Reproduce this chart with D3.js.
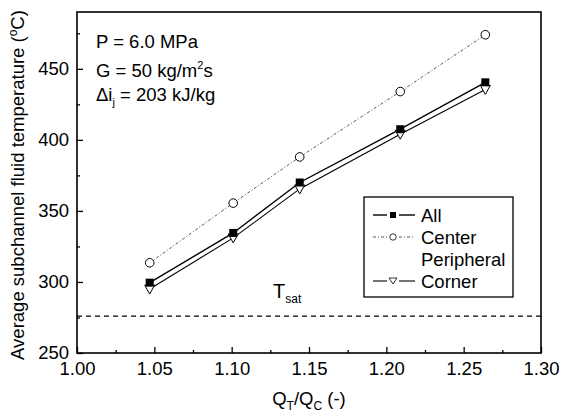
<!DOCTYPE html>
<html>
<head>
<meta charset="utf-8">
<script src="https://cdn.jsdelivr.net/npm/d3@7"></script>
<style>
  body { margin: 0; background: #fff; }
  svg { font-family: Arial, "Liberation Sans", sans-serif; }
</style>
</head>
<body>
<svg width="563" height="413"></svg>
<script>
// ratio Q_T/Q_C
var ratios = [1.047, 1.101, 1.144, 1.209, 1.264];
// average subchannel fluid temperature (deg C)
var allTemps = [299.5, 334.5, 370, 407.5, 440.5];
var centerTemps = [313.5, 355.5, 388, 434, 474];
var cornerTemps = [295, 331, 365.5, 404, 435.5];
var tSat = 276;

var xTicks = [1.00, 1.05, 1.10, 1.15, 1.20, 1.25, 1.30];
var yTicks = [250, 300, 350, 400, 450];

var margin = {left: 77, top: 12, right: 22, bottom: 60};
var width = 563, height = 413;
var fs = 18.5;

var svg = d3.select("svg");

var x = d3.scaleLinear().domain([1.0, 1.3]).range([margin.left, width - margin.right]);
var y = d3.scaleLinear().domain([250, 490]).range([height - margin.bottom, margin.top]);

// frame
svg.append("rect")
   .attr("x", x(1.0)).attr("y", y(490))
   .attr("width", x(1.3) - x(1.0)).attr("height", y(250) - y(490))
   .attr("fill", "none").attr("stroke", "#000").attr("stroke-width", 1.6);

// axes, ticks point inward
svg.append("g")
   .attr("transform", "translate(0," + y(250) + ")")
   .call(d3.axisBottom(x).tickValues(xTicks).tickFormat(d3.format(".2f")).tickSize(-6).tickPadding(9));
svg.append("g")
   .attr("transform", "translate(0," + y(250) + ")")
   .call(d3.axisBottom(x).tickValues(d3.range(1.025, 1.3, 0.05)).tickFormat("").tickSize(-3));

svg.append("g")
   .attr("transform", "translate(" + x(1.0) + ",0)")
   .call(d3.axisLeft(y).tickValues(yTicks).tickSize(-6).tickPadding(8));
svg.append("g")
   .attr("transform", "translate(" + x(1.0) + ",0)")
   .call(d3.axisLeft(y).tickValues([275, 325, 375, 425, 475]).tickFormat("").tickSize(-3));

svg.selectAll(".domain").remove();
svg.selectAll(".tick line").attr("stroke", "#000").attr("stroke-width", 1.3);
svg.selectAll(".tick text").attr("font-size", fs).attr("fill", "#000")
   .attr("font-family", "Arial, 'Liberation Sans', sans-serif");

// axis titles
var xt = svg.append("text")
   .attr("x", (x(1.0) + x(1.3)) / 2).attr("y", 405)
   .attr("text-anchor", "middle").attr("font-size", fs);
xt.append("tspan").text("Q");
xt.append("tspan").attr("font-size", 12).attr("dy", 5).text("T");
xt.append("tspan").attr("dy", -5).text("/Q");
xt.append("tspan").attr("font-size", 12).attr("dy", 5).text("C");
xt.append("tspan").attr("dy", -5).text(" (-)");

var yt = svg.append("text")
   .attr("transform", "translate(24,185) rotate(-90)")
   .attr("text-anchor", "middle").attr("font-size", fs);
yt.append("tspan").text("Average subchannel fluid temperature (");
yt.append("tspan").attr("font-size", 12).attr("dy", -7).text("o");
yt.append("tspan").attr("dy", 7).text("C)");

// saturation line
svg.append("line")
   .attr("x1", x(1.0)).attr("x2", x(1.3))
   .attr("y1", y(tSat)).attr("y2", y(tSat))
   .attr("stroke", "#000").attr("stroke-width", 1.3).attr("stroke-dasharray", "5,4");
var ts = svg.append("text").attr("x", 273).attr("y", 298).attr("font-size", 20);
ts.append("tspan").text("T");
ts.append("tspan").attr("font-size", 12).attr("dy", 5).text("sat");

// conditions
var notes = svg.append("g").attr("font-size", fs);
notes.append("text").attr("x", 96).attr("y", 48).text("P = 6.0 MPa");
var g2 = notes.append("text").attr("x", 96).attr("y", 77);
g2.append("tspan").text("G = 50 kg/m");
g2.append("tspan").attr("font-size", 11).attr("dy", -8).text("2");
g2.append("tspan").attr("dy", 8).text("s");
var g3 = notes.append("text").attr("x", 96).attr("y", 101);
g3.append("tspan").text("\u0394i");
g3.append("tspan").attr("font-size", 11).attr("dy", 5).text("j");
g3.append("tspan").attr("dy", -5).text(" = 203 kJ/kg");

// series
var series = [
  {name: "All", values: allTemps, dash: null, color: "#000", width: 1.4, marker: "square"},
  {name: "Center", values: centerTemps, dash: "3,2,1,2", color: "#444", width: 0.9, marker: "circle"},
  {name: "Corner", values: cornerTemps, dash: null, color: "#000", width: 1.1, marker: "triangle"}
];

var line = d3.line()
   .x(function (d) { return x(d[0]); })
   .y(function (d) { return y(d[1]); });

function drawMarker(g, type, cx, cy) {
  if (type === "square") {
    g.append("rect").attr("x", cx - 4).attr("y", cy - 4).attr("width", 8).attr("height", 8)
     .attr("fill", "#000");
  } else if (type === "circle") {
    g.append("circle").attr("cx", cx).attr("cy", cy).attr("r", 4.3)
     .attr("fill", "#fff").attr("stroke", "#000").attr("stroke-width", 1);
  } else {
    g.append("path")
     .attr("d", "M" + (cx - 5) + "," + (cy - 4) + "L" + (cx + 5) + "," + (cy - 4) + "L" + cx + "," + (cy + 5) + "Z")
     .attr("fill", "#fff").attr("stroke", "#000").attr("stroke-width", 1);
  }
}

series.forEach(function (s) {
  var pts = ratios.map(function (r, i) { return [r, s.values[i]]; });
  svg.append("path")
     .datum(pts)
     .attr("d", line)
     .attr("fill", "none")
     .attr("stroke", s.color)
     .attr("stroke-width", s.width)
     .attr("stroke-dasharray", s.dash);
});
// markers after lines; corner first so the square sits on top
[series[1], series[2], series[0]].forEach(function (s) {
  var g = svg.append("g");
  ratios.forEach(function (r, i) {
    drawMarker(g, s.marker, x(r), y(s.values[i]));
  });
});

// legend
var legend = svg.append("g");
legend.append("rect")
   .attr("x", 364).attr("y", 197).attr("width", 149).attr("height", 100)
   .attr("fill", "#fff").attr("stroke", "#000").attr("stroke-width", 1.3);

var legendRows = [
  {label: "All", s: series[0], y: 215},
  {label: "Center", s: series[1], y: 237},
  {label: "Peripheral", s: null, y: 259},
  {label: "Corner", s: series[2], y: 281}
];
legendRows.forEach(function (row) {
  if (row.s) {
    [[373, 387], [399, 415]].forEach(function (seg) {
      legend.append("line")
         .attr("x1", seg[0]).attr("x2", seg[1]).attr("y1", row.y).attr("y2", row.y)
         .attr("stroke", row.s.color).attr("stroke-width", row.s.width)
         .attr("stroke-dasharray", row.s.dash);
    });
    if (row.s.marker === "square") {
      legend.append("rect").attr("x", 390).attr("y", row.y - 3).attr("width", 6).attr("height", 6).attr("fill", "#000");
    } else if (row.s.marker === "circle") {
      legend.append("circle").attr("cx", 393).attr("cy", row.y).attr("r", 3.2).attr("fill", "#fff").attr("stroke", "#000").attr("stroke-width", 0.8);
    } else {
      legend.append("path").attr("d", "M389," + (row.y - 3) + "L397," + (row.y - 3) + "L393," + (row.y + 3) + "Z")
        .attr("fill", "#fff").attr("stroke", "#000").attr("stroke-width", 0.8);
    }
  }
  legend.append("text").attr("x", 421).attr("y", row.y + 6.5).attr("font-size", fs).text(row.label);
});
</script>
</body>
</html>
